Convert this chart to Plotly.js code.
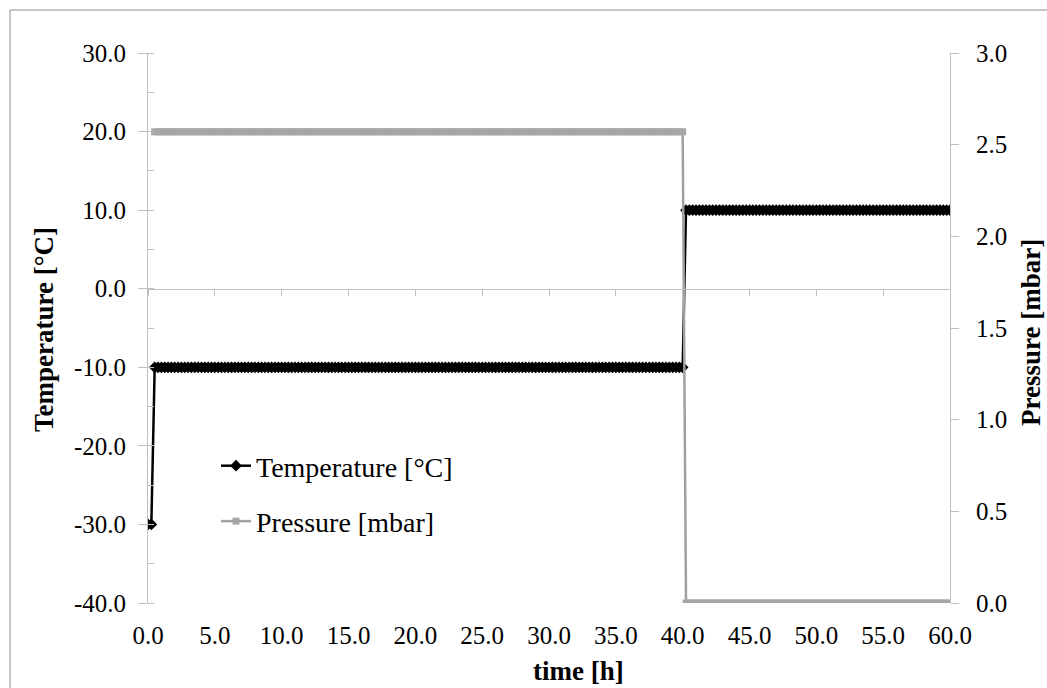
<!DOCTYPE html>
<html>
<head>
<meta charset="utf-8">
<script src="https://cdn.plot.ly/plotly-3.0.1.min.js"></script>
<style>html,body{margin:0;padding:0;background:#fff;}#chart{width:1047px;height:688px;}</style>
</head>
<body>
<div id="chart"></div>
<script>
// time [h]
const timeH = [
0,0.25,0.5,0.75,1,1.25,1.5,1.75,2,2.25,2.5,2.75,3,3.25,3.5,3.75,4,4.25,4.5,4.75,
5,5.25,5.5,5.75,6,6.25,6.5,6.75,7,7.25,7.5,7.75,8,8.25,8.5,8.75,9,9.25,9.5,9.75,
10,10.25,10.5,10.75,11,11.25,11.5,11.75,12,12.25,12.5,12.75,13,13.25,13.5,13.75,14,14.25,14.5,14.75,
15,15.25,15.5,15.75,16,16.25,16.5,16.75,17,17.25,17.5,17.75,18,18.25,18.5,18.75,19,19.25,19.5,19.75,
20,20.25,20.5,20.75,21,21.25,21.5,21.75,22,22.25,22.5,22.75,23,23.25,23.5,23.75,24,24.25,24.5,24.75,
25,25.25,25.5,25.75,26,26.25,26.5,26.75,27,27.25,27.5,27.75,28,28.25,28.5,28.75,29,29.25,29.5,29.75,
30,30.25,30.5,30.75,31,31.25,31.5,31.75,32,32.25,32.5,32.75,33,33.25,33.5,33.75,34,34.25,34.5,34.75,
35,35.25,35.5,35.75,36,36.25,36.5,36.75,37,37.25,37.5,37.75,38,38.25,38.5,38.75,39,39.25,39.5,39.75,
40,40.25,40.5,40.75,41,41.25,41.5,41.75,42,42.25,42.5,42.75,43,43.25,43.5,43.75,44,44.25,44.5,44.75,
45,45.25,45.5,45.75,46,46.25,46.5,46.75,47,47.25,47.5,47.75,48,48.25,48.5,48.75,49,49.25,49.5,49.75,
50,50.25,50.5,50.75,51,51.25,51.5,51.75,52,52.25,52.5,52.75,53,53.25,53.5,53.75,54,54.25,54.5,54.75,
55,55.25,55.5,55.75,56,56.25,56.5,56.75,57,57.25,57.5,57.75,58,58.25,58.5,58.75,59,59.25,59.5,59.75,
60
];

// Temperature [°C]
const temperature = [
-30,-30,-10,-10,-10,-10,-10,-10,-10,-10,-10,-10,-10,-10,-10,-10,-10,-10,-10,-10,
-10,-10,-10,-10,-10,-10,-10,-10,-10,-10,-10,-10,-10,-10,-10,-10,-10,-10,-10,-10,
-10,-10,-10,-10,-10,-10,-10,-10,-10,-10,-10,-10,-10,-10,-10,-10,-10,-10,-10,-10,
-10,-10,-10,-10,-10,-10,-10,-10,-10,-10,-10,-10,-10,-10,-10,-10,-10,-10,-10,-10,
-10,-10,-10,-10,-10,-10,-10,-10,-10,-10,-10,-10,-10,-10,-10,-10,-10,-10,-10,-10,
-10,-10,-10,-10,-10,-10,-10,-10,-10,-10,-10,-10,-10,-10,-10,-10,-10,-10,-10,-10,
-10,-10,-10,-10,-10,-10,-10,-10,-10,-10,-10,-10,-10,-10,-10,-10,-10,-10,-10,-10,
-10,-10,-10,-10,-10,-10,-10,-10,-10,-10,-10,-10,-10,-10,-10,-10,-10,-10,-10,-10,
-10,10,10,10,10,10,10,10,10,10,10,10,10,10,10,10,10,10,10,10,
10,10,10,10,10,10,10,10,10,10,10,10,10,10,10,10,10,10,10,10,
10,10,10,10,10,10,10,10,10,10,10,10,10,10,10,10,10,10,10,10,
10,10,10,10,10,10,10,10,10,10,10,10,10,10,10,10,10,10,10,10,
10
];

// Pressure [mbar]
const pressure = [
null,null,2.57,2.57,2.57,2.57,2.57,2.57,2.57,2.57,2.57,2.57,2.57,2.57,2.57,2.57,2.57,2.57,2.57,2.57,
2.57,2.57,2.57,2.57,2.57,2.57,2.57,2.57,2.57,2.57,2.57,2.57,2.57,2.57,2.57,2.57,2.57,2.57,2.57,2.57,
2.57,2.57,2.57,2.57,2.57,2.57,2.57,2.57,2.57,2.57,2.57,2.57,2.57,2.57,2.57,2.57,2.57,2.57,2.57,2.57,
2.57,2.57,2.57,2.57,2.57,2.57,2.57,2.57,2.57,2.57,2.57,2.57,2.57,2.57,2.57,2.57,2.57,2.57,2.57,2.57,
2.57,2.57,2.57,2.57,2.57,2.57,2.57,2.57,2.57,2.57,2.57,2.57,2.57,2.57,2.57,2.57,2.57,2.57,2.57,2.57,
2.57,2.57,2.57,2.57,2.57,2.57,2.57,2.57,2.57,2.57,2.57,2.57,2.57,2.57,2.57,2.57,2.57,2.57,2.57,2.57,
2.57,2.57,2.57,2.57,2.57,2.57,2.57,2.57,2.57,2.57,2.57,2.57,2.57,2.57,2.57,2.57,2.57,2.57,2.57,2.57,
2.57,2.57,2.57,2.57,2.57,2.57,2.57,2.57,2.57,2.57,2.57,2.57,2.57,2.57,2.57,2.57,2.57,2.57,2.57,2.57,
2.57,0,0,0,0,0,0,0,0,0,0,0,0,0,0,0,0,0,0,0,
0,0,0,0,0,0,0,0,0,0,0,0,0,0,0,0,0,0,0,0,
0,0,0,0,0,0,0,0,0,0,0,0,0,0,0,0,0,0,0,0,
0,0,0,0,0,0,0,0,0,0,0,0,0,0,0,0,0,0,0,0,
0
];

const tempTickVals = [-40,-30,-20,-10,0,10,20,30];
const tempTickText = ['-40.0','-30.0','-20.0','-10.0','0.0','10.0','20.0','30.0'];
const timeTickVals = [0,5,10,15,20,25,30,35,40,45,50,55,60];
const timeTickText = ['0.0','5.0','10.0','15.0','20.0','25.0','30.0','35.0','40.0','45.0','50.0','55.0','60.0'];
const pressTickVals = [0,0.5,1,1.5,2,2.5,3];
const pressTickText = ['0.0','0.5','1.0','1.5','2.0','2.5','3.0'];

const FONT = 'Liberation Serif, Times New Roman, serif';
const AX = '#bfbfbf';
const TICKSIZE = 25;

const traces = [
  {
    x: timeH, y: temperature, name: 'Temperature [°C]', type: 'scatter', mode: 'lines+markers',
    xaxis: 'x', yaxis: 'y', legendgroup: 'a',
    line: {color: '#000000', width: 2.5},
    marker: {symbol: 'diamond', size: 9, color: '#000000'}
  },
  {
    x: timeH, y: pressure, name: 'Pressure [mbar]', type: 'scatter', mode: 'lines+markers',
    xaxis: 'x', yaxis: 'y2', legendgroup: 'b',
    line: {color: '#a0a0a0', width: 2.5},
    marker: {symbol: 'square', size: 7, color: '#a6a6a6'}
  }
];

const layout = {
  width: 1047, height: 688,
  margin: {l: 148, r: 97, t: 53, b: 85},
  paper_bgcolor: '#ffffff', plot_bgcolor: 'rgba(0,0,0,0)',
  font: {family: FONT, size: TICKSIZE, color: '#000000'},
  showlegend: true,
  legend: {
    x: (216-148)/802, y: (603-441)/550, xanchor: 'left', yanchor: 'top',
    bgcolor: 'rgba(0,0,0,0)', font: {family: FONT, size: 28, color: '#000'},
    tracegroupgap: 16
  },
  xaxis: {
    range: [0, 60], anchor: 'free', position: 40/70,
    tickvals: timeTickVals, ticktext: timeTickText,
    showline: true, linecolor: AX, linewidth: 1,
    ticks: 'outside', ticklen: 6, tickcolor: AX, tickwidth: 1,
    ticklabelstandoff: 318,
    showgrid: false, zeroline: false,
    tickfont: {family: FONT, size: TICKSIZE, color: '#000'}
  },
  yaxis: {
    range: [-40, 30],
    tickvals: tempTickVals, ticktext: tempTickText,
    showline: true, linecolor: AX, linewidth: 1,
    ticks: 'outside', ticklen: 9, tickcolor: AX, tickwidth: 1,
    ticklabelstandoff: 7,
    minor: {dtick: 5, ticks: 'inside', ticklen: 6, tickcolor: AX, showgrid: false},
    showgrid: false, zeroline: false,
    tickfont: {family: FONT, size: TICKSIZE, color: '#000'}
  },
  yaxis2: {
    range: [0, 3], overlaying: 'y', side: 'right', anchor: 'x',
    tickvals: pressTickVals, ticktext: pressTickText,
    showline: true, linecolor: AX, linewidth: 1,
    ticks: 'outside', ticklen: 8, tickcolor: AX, tickwidth: 1,
    ticklabelstandoff: 12,
    showgrid: false, zeroline: false,
    tickfont: {family: FONT, size: TICKSIZE, color: '#000'}
  },
  annotations: [
    {text: '<b>time [h]</b>', xref: 'paper', yref: 'paper', x: (578-148)/802, y: (603-671)/550,
     xanchor: 'center', yanchor: 'middle', showarrow: false, font: {family: FONT, size: 27, color: '#000'}},
    {text: '<b>Temperature [°C]</b>', xref: 'paper', yref: 'paper', x: (44-148)/802, y: (603-330)/550,
     xanchor: 'center', yanchor: 'middle', textangle: -90, showarrow: false, font: {family: FONT, size: 27, color: '#000'}},
    {text: '<b>Pressure [mbar]</b>', xref: 'paper', yref: 'paper', x: (1031-148)/802, y: (603-333)/550,
     xanchor: 'center', yanchor: 'middle', textangle: -90, showarrow: false, font: {family: FONT, size: 27, color: '#000'}}
  ],
  shapes: [
    {type: 'line', xref: 'paper', yref: 'paper', x0: (10-148)/802, x1: (10-148)/802, y0: (603-700)/550, y1: (603-10)/550,
     line: {color: '#8c8c8c', width: 1}},
    {type: 'line', xref: 'paper', yref: 'paper', x0: (10-148)/802, x1: (1060-148)/802, y0: (603-10)/550, y1: (603-10)/550,
     line: {color: '#8c8c8c', width: 1}}
  ]
};

Plotly.newPlot('chart', traces, layout, {displayModeBar: false, staticPlot: true});
</script>
</body>
</html>
